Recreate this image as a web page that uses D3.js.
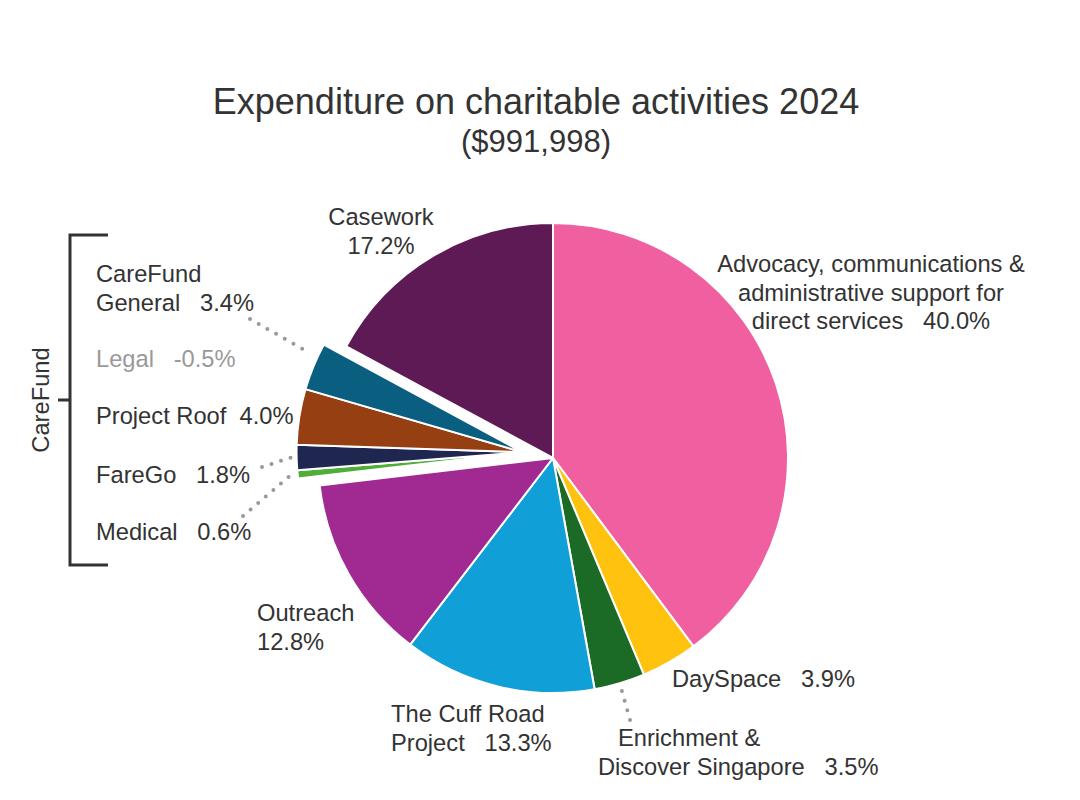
<!DOCTYPE html>
<html>
<head>
<meta charset="utf-8">
<script src="https://cdn.jsdelivr.net/npm/d3@7"></script>
<style>
  body { margin: 0; background: #fff; }
  text { font-family: 'Liberation Sans', Arial, sans-serif; fill: #333; white-space: pre; }
</style>
</head>
<body>
<div id="chart"></div>
<script>
// slices, clockwise from 12 o'clock
const names = ['Advocacy', 'DaySpace', 'Enrichment', 'Cuff Road', 'Outreach',
  'Medical', 'FareGo', 'Project Roof', 'CareFund General', 'Casework']
const values = [40.0, 3.9, 3.5, 13.3, 12.8, 0.6, 1.8, 4.0, 3.4, 17.2]
const colors = ['#f060a1', '#ffc20e', '#1b6b27', '#119fd7', '#a02a92',
  '#4fae3a', '#1f264f', '#963f12', '#0a5e80', '#5e1a55']
const careFund = ['Medical', 'FareGo', 'Project Roof', 'CareFund General']
// negative item, not drawable as a slice
const legalName = 'Legal'
const legalValue = -0.5

const W = 1080
const H = 800
const CX = 553
const CY = 458
const R = 235
const R_CF = 226
const EXPLODE = 31
const LABEL_SIZE = '23.7px'

const svg = d3.select('#chart')
  .append('svg')
  .attr('width', W)
  .attr('height', H)

svg.append('text')
  .attr('x', 536).attr('y', 114)
  .attr('text-anchor', 'middle')
  .style('font-size', '36px')
  .text('Expenditure on charitable activities 2024')

svg.append('text')
  .attr('x', 536).attr('y', 152)
  .attr('text-anchor', 'middle')
  .style('font-size', '31px')
  .text('($991,998)')

const data = names.map((name, i) => ({ name, value: values[i], color: colors[i] }))
const pie = d3.pie().sort(null).value((d) => d.value)
const arcs = pie(data)

// CareFund group is pulled out along its own mid angle
const cfArcs = arcs.filter((a) => careFund.includes(a.data.name))
const cfMid = (d3.min(cfArcs, (a) => a.startAngle) + d3.max(cfArcs, (a) => a.endAngle)) / 2
const cfOffset = [Math.sin(cfMid) * EXPLODE, -Math.cos(cfMid) * EXPLODE]

const origin = (a) => careFund.includes(a.data.name) ? [CX + cfOffset[0], CY + cfOffset[1]] : [CX, CY]
const radius = (a) => careFund.includes(a.data.name) ? R_CF : R

const arcGen = d3.arc().innerRadius(0)

svg.append('g')
  .selectAll('path')
  .data(arcs)
  .join('path')
  .attr('transform', (a) => `translate(${origin(a)})`)
  .attr('d', (a) => arcGen.outerRadius(radius(a))(a))
  .attr('fill', (a) => a.data.color)
  .attr('stroke', '#fff')
  .attr('stroke-width', 2)
  .attr('stroke-linejoin', 'round')

// plain hyphen for negatives, as in the original
const pct = (v) => `${d3.format('.1f')(v).replace('\u2212', '-')}%`
const valueOf = (name) => name === legalName ? legalValue : values[names.indexOf(name)]

// label placement: x, first baseline, anchor, lines ({p} = percent)
const labelLayout = [
  { name: 'Advocacy', x: 871, y: 272, anchor: 'middle', lines: ['Advocacy, communications &', 'administrative support for', 'direct services   {p}'] },
  { name: 'Casework', x: 381, y: 225, anchor: 'middle', lines: ['Casework', '{p}'] },
  { name: 'CareFund General', x: 96, y: 282, anchor: 'start', lines: ['CareFund', 'General   {p}'] },
  { name: legalName, x: 96, y: 367, anchor: 'start', lines: ['Legal   {p}'], color: '#999' },
  { name: 'Project Roof', x: 96, y: 424, anchor: 'start', lines: ['Project Roof  {p}'] },
  { name: 'FareGo', x: 96, y: 483, anchor: 'start', lines: ['FareGo   {p}'] },
  { name: 'Medical', x: 96, y: 540, anchor: 'start', lines: ['Medical   {p}'] },
  { name: 'Outreach', x: 257, y: 621, anchor: 'start', lines: ['Outreach', '{p}'] },
  { name: 'Cuff Road', x: 391, y: 722, anchor: 'start', lines: ['The Cuff Road', 'Project   {p}'] },
  { name: 'DaySpace', x: 672, y: 687, anchor: 'start', lines: ['DaySpace   {p}'] },
  { name: 'Enrichment', x: 618, y: 746, anchor: 'start', lines: ['Enrichment &'] },
  { name: 'Enrichment', x: 598, y: 775, anchor: 'start', lines: ['Discover Singapore   {p}'] }
]

const LINE_H = 28.5
labelLayout.forEach((l) => {
  const t = svg.append('text')
    .attr('text-anchor', l.anchor)
    .style('font-size', LABEL_SIZE)
    .style('fill', l.color || '#333')
  l.lines.forEach((line, i) => {
    t.append('tspan')
      .attr('x', l.x)
      .attr('y', l.y + i * LINE_H)
      .text(line.replace('{p}', pct(valueOf(l.name))))
  })
})

// dotted leaders: from label point to slice edge (t = position within the slice angle)
const leaders = [
  { name: 'CareFund General', from: [250, 319], t: 0.72, gap: 8 },
  { name: 'FareGo', from: [262, 467], t: 0.5, gap: 6 },
  { name: 'Medical', from: [243, 516], t: 0.5, gap: 7 },
  { name: 'Enrichment', from: [630, 720], t: 0.5, gap: 5 }
]

leaders.forEach((l) => {
  const a = arcs.find((d) => d.data.name === l.name)
  const ang = a.startAngle + (a.endAngle - a.startAngle) * l.t
  const o = origin(a)
  const r = radius(a) + l.gap
  const to = [o[0] + Math.sin(ang) * r, o[1] - Math.cos(ang) * r]
  svg.append('line')
    .attr('x1', l.from[0]).attr('y1', l.from[1])
    .attr('x2', to[0]).attr('y2', to[1])
    .attr('stroke', '#999')
    .attr('stroke-width', 4)
    .attr('stroke-linecap', 'round')
    .attr('stroke-dasharray', '0,10')
})

// CareFund bracket
const bracket = svg.append('g')
  .attr('fill', 'none')
  .attr('stroke', '#333')
  .attr('stroke-width', 3)
bracket.append('path').attr('d', d3.line()([[108, 235], [70, 235], [70, 565], [108, 565]]))
bracket.append('path').attr('d', d3.line()([[58, 400], [70, 400]]))

svg.append('text')
  .attr('transform', 'translate(49,400) rotate(-90)')
  .attr('text-anchor', 'middle')
  .style('font-size', LABEL_SIZE)
  .text('CareFund')
</script>
</body>
</html>
